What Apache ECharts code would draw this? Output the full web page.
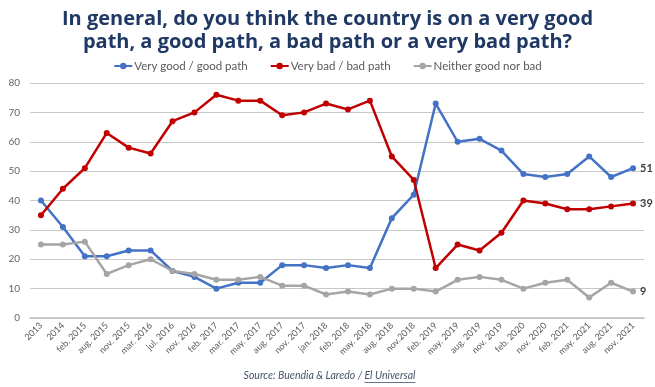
<!DOCTYPE html>
<html><head><meta charset="utf-8">
<script src="https://cdn.jsdelivr.net/npm/echarts@6/dist/echarts.min.js"></script>
<style>html,body{margin:0;padding:0;background:#fff}#c{width:655px;height:387px}</style>
</head><body><div id="c"></div>
<script>
const categories = ["2013","2014","feb. 2015","aug. 2015","nov. 2015","mar. 2016","jul. 2016","nov. 2016","feb. 2017","mar. 2017","may. 2017","aug. 2017","nov. 2017","jan. 2018","feb. 2018","may. 2018","aug. 2018","nov.2018","feb. 2019","may. 2019","aug. 2019","nov. 2019","feb. 2020","nov. 2020","feb. 2021","may. 2021","aug. 2021","nov. 2021"];
const veryGood = [40,31,21,21,23,23,16,14,10,12,12,18,18,17,18,17,34,42,73,60,61,57,49,48,49,55,48,51];
const veryBad = [35,44,51,63,58,56,67,70,76,74,74,69,70,73,71,74,55,47,17,25,23,29,40,39,37,37,38,39];
const neither = [25,25,26,15,18,20,16,15,13,13,14,11,11,8,9,8,10,10,9,13,14,13,10,12,13,7,12,9];
const yTicks = {min:0, max:80, interval:10};

const srcA = 'Source: Buendia & Laredo / ';
const srcB = 'El Universal';
const srcFont = 'italic 10.5px Lato';
const cv = document.createElement('canvas').getContext('2d');
cv.font = srcFont;
const wA = cv.measureText(srcA).width, wB = cv.measureText(srcB).width;
const sx = (655 - wA - wB) / 2 + 2;

const chart = echarts.init(document.getElementById('c'));
function mk(name, data, color){
  return {name, type:'line', data, color, symbol:'circle', symbolSize:6,
    lineStyle:{width:2.5, color}, itemStyle:{color},
    label:{show:true, position:'right', distance:4, fontFamily:'Lato', fontWeight:'bold', fontSize:11, color:'#404040',
      formatter:p=> p.dataIndex===data.length-1 ? p.value : ''},
    emphasis:{disabled:true}, animation:false};
}
const srcStyle = {font:srcFont, fill:'#44546a', textVerticalAlign:'middle'};
chart.setOption({
  animation:false,
  title:{text:'In general, do you think the country is on a very good\npath, a good path, a bad path or a very bad path?', left:'center', top:3,
    textStyle:{fontFamily:'Open Sans', fontWeight:'bold', fontSize:20, lineHeight:23, color:'#1f3864'}},
  legend:{top:55, left:'center', itemWidth:18, itemHeight:8, itemGap:22,
    textStyle:{fontFamily:'Lato', fontSize:11.5, color:'#595959', padding:[0,0,0,-3]},
    data:['Very good / good path','Very bad / bad path','Neither good nor bad']},
  graphic:[
    {type:'text', x:sx, y:376, style:Object.assign({text:srcA}, srcStyle)},
    {type:'text', x:sx+wA, y:376, style:Object.assign({text:srcB}, srcStyle)},
    {type:'line', shape:{x1:sx+wA,y1:382.5,x2:sx+wA+wB,y2:382.5}, style:{stroke:'#44546a', lineWidth:0.8}}],
  grid:{left:30, right:11, top:83, bottom:69},
  xAxis:{type:'category', data:categories, boundaryGap:true,
    axisLine:{lineStyle:{color:'#bfbfbf', width:1.5}}, axisTick:{show:false},
    axisLabel:{rotate:45, interval:0, fontFamily:'Lato', fontSize:9, color:'#595959', margin:6}},
  yAxis:{type:'value', min:yTicks.min, max:yTicks.max, interval:yTicks.interval,
    axisLine:{show:false}, axisTick:{show:false},
    splitLine:{lineStyle:{color:'#c8c8c8', width:1.2}},
    axisLabel:{fontFamily:'Lato', fontSize:10, color:'#666666', margin:10}},
  series:[mk('Very good / good path', veryGood, '#4472c4'), mk('Very bad / bad path', veryBad, '#c00000'), mk('Neither good nor bad', neither, '#a5a5a5')]
});
</script></body></html>
